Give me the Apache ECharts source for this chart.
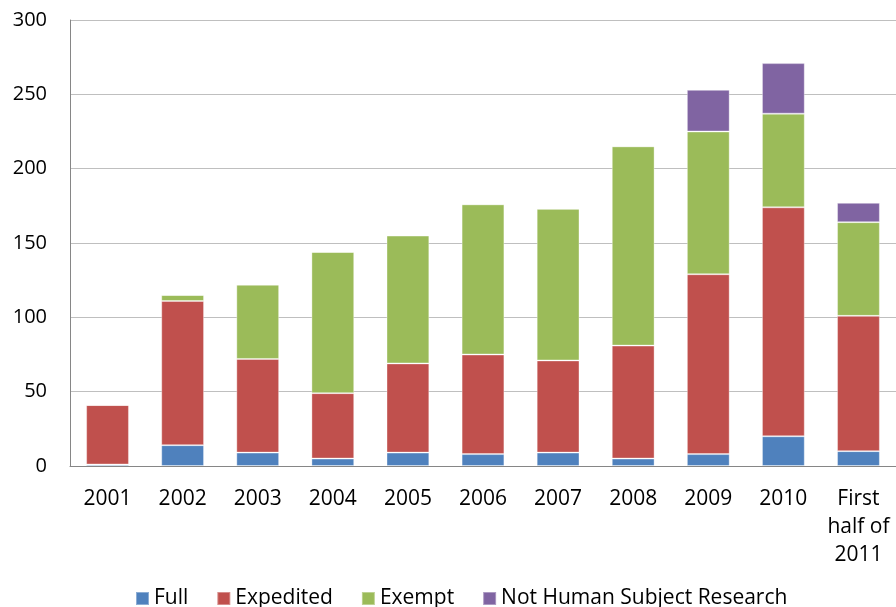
<!DOCTYPE html>
<html><head><meta charset="utf-8">
<script src="https://cdn.jsdelivr.net/npm/echarts@6/dist/echarts.min.js"></script>
<style>html,body{margin:0;padding:0;background:#fff}#c{width:896px;height:607px}</style>
</head><body><div id="c"></div>
<script>
const categories = ['2001','2002','2003','2004','2005','2006','2007','2008','2009','2010','First\nhalf of\n2011'];
const full      = [1, 14, 9, 5, 9, 8, 9, 5, 8, 20, 10];
const expedited = [40, 97, 63, 44, 60, 67, 62, 76, 121, 154, 91];
const exempt    = [0, 4, 50, 95, 86, 101, 102, 134, 96, 63, 63];
const nhsr      = [0, 0, 0, 0, 0, 0, 0, 0, 28, 34, 13];
const yTicks = [0, 50, 100, 150, 200, 250, 300];

const font = 'Open Sans';
const chart = echarts.init(document.getElementById('c'), null, {renderer:'canvas'});
function s(name, data, color){
  return {name, type:'bar', stack:'t', data, barCategoryGap:'43%',
    itemStyle:{color, borderColor:'rgba(255,255,255,0.35)', borderWidth:1},
    emphasis:{disabled:true}};
}
chart.setOption({
  animation:false,
  textStyle:{fontFamily:font},
  grid:{left:70, right:-2, top:20, bottom:141, containLabel:false},
  legend:{left:130, top:583, itemWidth:13, itemHeight:13, itemGap:28, icon:'rect',
    textStyle:{fontSize:21, color:'#000', fontFamily:font},
    data:['Full','Expedited','Exempt','Not Human Subject Research']},
  xAxis:{type:'category', data:categories,
    axisLine:{lineStyle:{color:'#868686', width:1}}, axisTick:{show:false},
    axisLabel:{fontSize:21, color:'#000', margin:19, lineHeight:28, interval:0}},
  yAxis:{type:'value', min:yTicks[0], max:yTicks[yTicks.length-1], interval:50,
    axisLine:{show:true, lineStyle:{color:'#868686'}}, axisTick:{show:false},
    splitLine:{lineStyle:{color:'#BFBFBF', width:1}},
    axisLabel:{fontSize:20, color:'#000', margin:23}},
  series:[
    s('Full', full, '#4F81BD'),
    s('Expedited', expedited, '#C0504D'),
    s('Exempt', exempt, '#9BBB59'),
    s('Not Human Subject Research', nhsr, '#8064A2')
  ]
});
</script></body></html>
